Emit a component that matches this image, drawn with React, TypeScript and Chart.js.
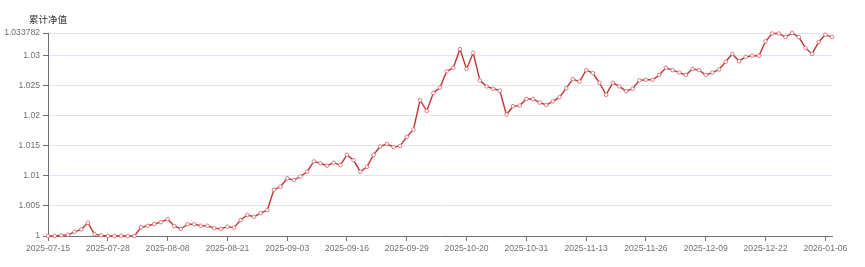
import React, { useEffect, useRef } from "react";
import { Chart, registerables } from "chart.js";

Chart.register(...registerables);

const dates: string[] = [
  "2025-07-15", "2025-07-16", "2025-07-17", "2025-07-18", "2025-07-21", "2025-07-22", "2025-07-23", "2025-07-24", "2025-07-25", "2025-07-28", "2025-07-29", "2025-07-30", "2025-07-31",
  "2025-08-01", "2025-08-04", "2025-08-05", "2025-08-06", "2025-08-07", "2025-08-08", "2025-08-11", "2025-08-12", "2025-08-13", "2025-08-14", "2025-08-15", "2025-08-18", "2025-08-19", "2025-08-20", "2025-08-21", "2025-08-22", "2025-08-25", "2025-08-26", "2025-08-27", "2025-08-28", "2025-08-29",
  "2025-09-01", "2025-09-02", "2025-09-03", "2025-09-04", "2025-09-05", "2025-09-08", "2025-09-09", "2025-09-10", "2025-09-11", "2025-09-12", "2025-09-15", "2025-09-16", "2025-09-17", "2025-09-18", "2025-09-19", "2025-09-22", "2025-09-23", "2025-09-24", "2025-09-25", "2025-09-26", "2025-09-29", "2025-09-30",
  "2025-10-09", "2025-10-10", "2025-10-13", "2025-10-14", "2025-10-15", "2025-10-16", "2025-10-17", "2025-10-20", "2025-10-21", "2025-10-22", "2025-10-23", "2025-10-24", "2025-10-27", "2025-10-28", "2025-10-29", "2025-10-30", "2025-10-31",
  "2025-11-03", "2025-11-04", "2025-11-05", "2025-11-06", "2025-11-07", "2025-11-10", "2025-11-11", "2025-11-12", "2025-11-13", "2025-11-14", "2025-11-17", "2025-11-18", "2025-11-19", "2025-11-20", "2025-11-21", "2025-11-24", "2025-11-25", "2025-11-26", "2025-11-27", "2025-11-28",
  "2025-12-01", "2025-12-02", "2025-12-03", "2025-12-04", "2025-12-05", "2025-12-08", "2025-12-09", "2025-12-10", "2025-12-11", "2025-12-12", "2025-12-15", "2025-12-16", "2025-12-17", "2025-12-18", "2025-12-19", "2025-12-22", "2025-12-23", "2025-12-24", "2025-12-25", "2025-12-26", "2025-12-29", "2025-12-30", "2025-12-31",
  "2026-01-05", "2026-01-06", "2026-01-07",
];

const navValues: number[] = [
  1.0, 1.0, 1.0001, 1.0002, 1.0007, 1.0011, 1.0022, 1.0003, 1.0001, 1.0, 1.0, 1.00005, 1.0,
  1.0, 1.00145, 1.0017, 1.002, 1.0023, 1.0028, 1.00167, 1.00117, 1.00195, 1.00195, 1.0017, 1.0017, 1.0013, 1.00117, 1.00155, 1.0014, 1.00267, 1.0035, 1.0032, 1.0038, 1.0043,
  1.0077, 1.0082, 1.0096, 1.0093, 1.0099, 1.0107, 1.0124, 1.0121, 1.0117, 1.0122, 1.0118, 1.0135, 1.0126, 1.0107, 1.0115, 1.0135, 1.0149, 1.0153, 1.0148, 1.015, 1.0165, 1.0177,
  1.0226, 1.0208, 1.0238, 1.0247, 1.0274, 1.028, 1.0311, 1.0278, 1.0305, 1.0259, 1.0249, 1.0245, 1.0242, 1.0202, 1.0216, 1.0217, 1.0228,
  1.0228, 1.0222, 1.0218, 1.0224, 1.0231, 1.0246, 1.0261, 1.0257, 1.0276, 1.0271, 1.0255, 1.0235, 1.0255, 1.0249, 1.0241, 1.0245, 1.0259, 1.026, 1.026, 1.0268,
  1.028, 1.0276, 1.0272, 1.0268, 1.0278, 1.0276, 1.0268, 1.0272, 1.0277, 1.029, 1.0303, 1.0291, 1.0298, 1.03, 1.03, 1.0324, 1.0337, 1.0337, 1.0331, 1.033782, 1.0331, 1.0313, 1.0303,
  1.0323, 1.0335, 1.0331,
];

const yTicks: number[] = [1, 1.005, 1.01, 1.015, 1.02, 1.025, 1.03, 1.033782];
const yAxisName = "累计净值";
const labelEvery = 9;

const AXIS = "#6e7079";
const GRID = "#e0e6f1";
const LINE = "#c23531";
const FONT = "'Liberation Sans', Arial, sans-serif";

export default function App() {
  const ref = useRef<HTMLCanvasElement | null>(null);
  useEffect(() => {
    if (!ref.current) return;
    const titlePlugin = {
      id: "axisName",
      afterDraw(chart: any) {
        const ctx = chart.ctx;
        ctx.save();
        ctx.font = "9.5px 'Noto Sans CJK SC', sans-serif";
        ctx.fillStyle = "#333";
        ctx.textAlign = "center";
        ctx.textBaseline = "middle";
        ctx.fillText(yAxisName, chart.chartArea.left, 19);
        ctx.restore();
      },
    };
    const chart = new Chart(ref.current, {
      type: "line",
      data: {
        labels: dates,
        datasets: [
          {
            data: navValues,
            borderColor: LINE,
            borderWidth: 1.4,
            pointRadius: 1.8,
            pointBorderWidth: 0.9,
            pointBackgroundColor: "#fff",
            pointBorderColor: "#d9707a",
            tension: 0,
            fill: false,
            clip: false,
          },
        ],
      },
      options: {
        animation: false,
        responsive: true,
        maintainAspectRatio: false,
        layout: { padding: { top: 33, right: 33, left: 0, bottom: 0 } },
        plugins: { legend: { display: false }, tooltip: { enabled: false } },
        scales: {
          x: {
            type: "category",
            offset: false,
            grid: {
              display: true,
              drawOnChartArea: false,
              drawTicks: true,
              tickLength: 5,
              tickColor: AXIS,
              offset: false,
            },
            border: { display: true, color: AXIS, width: 1 },
            ticks: {
              autoSkip: false,
              maxRotation: 0,
              minRotation: 0,
              padding: 2,
              color: AXIS,
              font: { size: 8.6, family: FONT },
            },
            afterBuildTicks(scale: any) {
              scale.ticks = scale.ticks.filter((t: any) => t.value % labelEvery === 0);
            },
            afterFit(scale: any) {
              scale.height = 31;
            },
          },
          y: {
            min: yTicks[0],
            max: yTicks[yTicks.length - 1],
            grid: {
              color: GRID,
              drawTicks: true,
              tickLength: 5,
              tickColor: AXIS,
            },
            border: { display: true, color: AXIS, width: 1 },
            ticks: {
              padding: 3,
              color: AXIS,
              font: { size: 8.6, family: FONT },
              callback: (v: any) => String(parseFloat(Number(v).toFixed(6))),
            },
            afterBuildTicks(scale: any) {
              scale.ticks = yTicks.map((v) => ({ value: v }));
            },
            afterFit(scale: any) {
              scale.width = 48;
            },
          },
        },
      },
      plugins: [titlePlugin],
    });
    return () => chart.destroy();
  }, []);
  return (
    <div style={{ position: "fixed", left: 0, top: 0, width: 865, height: 267, background: "#fff" }}>
      <canvas ref={ref} />
    </div>
  );
}
